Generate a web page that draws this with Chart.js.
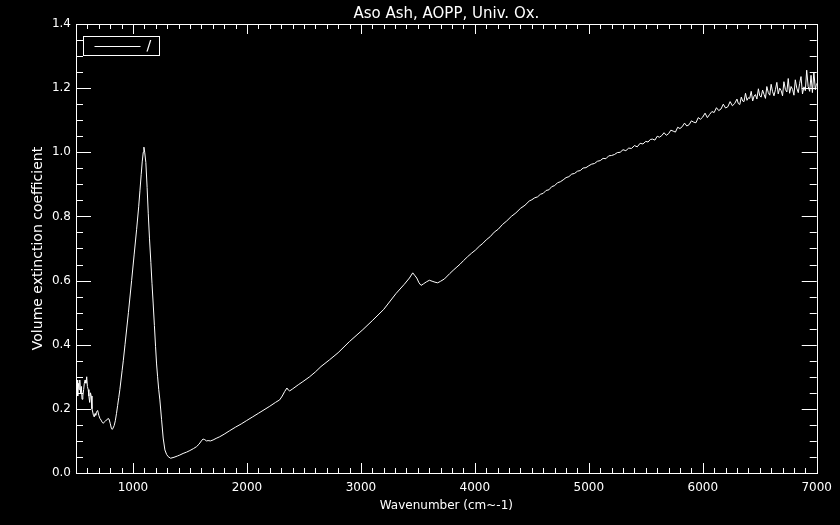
<!DOCTYPE html>
<html>
<head>
<meta charset="utf-8">
<title>Aso Ash, AOPP, Univ. Ox.</title>
<script src="https://cdn.jsdelivr.net/npm/chart.js@4.4.1/dist/chart.umd.min.js"></script>
<style>
  html, body { margin: 0; padding: 0; background: #000; }
  canvas { display: block; }
</style>
</head>
<body>
<canvas id="extChart" width="840" height="525"></canvas>
<script>
// spectrum (wavenumber in cm-1, extinction)
const wavenumber = [
  500, 505, 510, 515, 520, 527, 533, 540, 547, 553, 560, 567, 573, 580, 587, 594, 600, 607, 613, 620,
  627, 633, 640, 647, 653, 660, 667, 673, 680, 690, 700, 710, 720, 730, 740, 750, 760, 770, 780, 790,
  800, 810, 818, 825, 835, 845, 855, 865, 875, 885, 895, 905, 915, 930, 960, 988, 1010, 1032, 1050, 1061,
  1072, 1081, 1090, 1096, 1103, 1113, 1124, 1134, 1145, 1157, 1167, 1177, 1188, 1198, 1207, 1216, 1226, 1236, 1251, 1265,
  1280, 1295, 1309, 1330, 1360, 1390, 1411, 1440, 1470, 1499, 1530, 1557, 1580, 1600, 1615, 1630, 1645, 1659, 1680, 1703,
  1730, 1761, 1800, 1849, 1900, 1950, 1995, 2050, 2100, 2141, 2200, 2250, 2287, 2310, 2331, 2351, 2365, 2375, 2400, 2450,
  2491, 2550, 2600, 2650, 2725, 2800, 2900, 3017, 3100, 3200, 3309, 3380, 3426, 3455, 3475, 3490, 3510, 3528, 3550, 3575,
  3601, 3625, 3650, 3674, 3700, 3733, 3780, 3810, 3835, 3870, 3900, 3935, 3970, 4005, 4039, 4070, 4100, 4135, 4170, 4205,
  4243, 4280, 4320, 4360, 4400, 4440, 4477, 4500, 4525, 4550, 4575, 4600, 4625, 4650, 4675, 4700, 4725, 4750, 4775, 4800,
  4825, 4850, 4875, 4900, 4925, 4950, 4975, 5000, 5025, 5050, 5075, 5100, 5125, 5150, 5175, 5200, 5225, 5250, 5275, 5300,
  5325, 5350, 5375, 5400, 5425, 5450, 5475, 5500, 5520, 5540, 5560, 5580, 5600, 5620, 5640, 5660, 5680, 5700, 5720, 5740,
  5760, 5780, 5800, 5820, 5840, 5860, 5880, 5900, 5920, 5940, 5960, 5980, 6000, 6020, 6040, 6060, 6080, 6100, 6120, 6140,
  6160, 6180, 6200, 6220, 6240, 6260, 6280, 6300, 6312, 6325, 6338, 6350, 6362, 6375, 6388, 6400, 6412, 6425, 6438, 6450,
  6462, 6475, 6488, 6500, 6512, 6525, 6538, 6550, 6562, 6575, 6588, 6600, 6612, 6625, 6638, 6650, 6662, 6675, 6688, 6700,
  6712, 6725, 6738, 6750, 6762, 6775, 6788, 6800, 6812, 6825, 6838, 6850, 6862, 6875, 6888, 6900, 6912, 6925, 6938, 6950,
  6962, 6975, 6988, 7000
];
const extinction = [
  0.270, 0.250, 0.290, 0.240, 0.280, 0.260, 0.290, 0.250, 0.270, 0.230, 0.240, 0.260, 0.280, 0.290, 0.280, 0.300, 0.270, 0.260, 0.240, 0.220,
  0.250, 0.240, 0.200, 0.190, 0.180, 0.175, 0.185, 0.180, 0.190, 0.195, 0.180, 0.170, 0.165, 0.158, 0.155, 0.160, 0.163, 0.165, 0.170, 0.168,
  0.155, 0.140, 0.136, 0.140, 0.148, 0.163, 0.185, 0.210, 0.235, 0.260, 0.290, 0.320, 0.350, 0.400, 0.500, 0.600, 0.680, 0.760, 0.830, 0.880,
  0.930, 0.970, 1.000, 1.016, 1.000, 0.968, 0.890, 0.810, 0.730, 0.656, 0.590, 0.530, 0.460, 0.395, 0.340, 0.300, 0.260, 0.228, 0.166, 0.109,
  0.072, 0.058, 0.051, 0.046, 0.049, 0.053, 0.056, 0.061, 0.065, 0.070, 0.076, 0.082, 0.090, 0.100, 0.106, 0.104, 0.100, 0.101, 0.100, 0.103,
  0.108, 0.113, 0.121, 0.132, 0.143, 0.153, 0.163, 0.175, 0.186, 0.195, 0.208, 0.220, 0.228, 0.240, 0.254, 0.265, 0.258, 0.256, 0.262, 0.275,
  0.285, 0.300, 0.315, 0.332, 0.353, 0.375, 0.410, 0.447, 0.475, 0.510, 0.560, 0.588, 0.608, 0.624, 0.615, 0.608, 0.593, 0.585, 0.590, 0.596,
  0.601, 0.598, 0.595, 0.593, 0.598, 0.605, 0.622, 0.632, 0.640, 0.651, 0.662, 0.674, 0.685, 0.695, 0.707, 0.716, 0.727, 0.737, 0.751, 0.760,
  0.775, 0.786, 0.800, 0.811, 0.825, 0.835, 0.848, 0.852, 0.858, 0.861, 0.869, 0.872, 0.881, 0.883, 0.893, 0.896, 0.905, 0.908, 0.914, 0.921,
  0.924, 0.932, 0.934, 0.941, 0.943, 0.951, 0.952, 0.958, 0.963, 0.965, 0.972, 0.974, 0.981, 0.980, 0.989, 0.990, 0.993, 0.999, 1.000, 1.008,
  1.005, 1.013, 1.012, 1.021, 1.017, 1.028, 1.026, 1.034, 1.032, 1.040, 1.041, 1.038, 1.050, 1.047, 1.052, 1.061, 1.053, 1.058, 1.069, 1.066,
  1.063, 1.078, 1.074, 1.080, 1.091, 1.082, 1.086, 1.098, 1.094, 1.092, 1.108, 1.103, 1.110, 1.122, 1.108, 1.118, 1.127, 1.124, 1.139, 1.130,
  1.135, 1.150, 1.138, 1.142, 1.158, 1.145, 1.152, 1.166, 1.152, 1.149, 1.172, 1.160, 1.158, 1.184, 1.162, 1.170, 1.168, 1.190, 1.160, 1.175,
  1.180, 1.166, 1.198, 1.176, 1.172, 1.194, 1.180, 1.168, 1.205, 1.186, 1.178, 1.212, 1.190, 1.176, 1.196, 1.218, 1.182, 1.200, 1.192, 1.176,
  1.220, 1.196, 1.188, 1.230, 1.184, 1.205, 1.196, 1.178, 1.226, 1.200, 1.186, 1.215, 1.236, 1.182, 1.204, 1.192, 1.256, 1.205, 1.190, 1.240,
  1.186, 1.250, 1.195, 1.215
];
const seriesLabel = '/';
const xTicks = [1000, 2000, 3000, 4000, 5000, 6000, 7000];
const yTicks = [0.0, 0.2, 0.4, 0.6, 0.8, 1.0, 1.2, 1.4];

const titleText = 'Aso Ash, AOPP, Univ. Ox.';
const xTitleText = 'Wavenumber (cm~-1)';
const yTitleText = 'Volume extinction coefficient';

const FONT = 'DejaVu Sans';

// black page, IDL-style box with inward ticks, titles and legend
const idlPlot = {
    id: 'idlPlot',
    beforeDraw(chart) {
        const ctx = chart.ctx;
        ctx.save();
        ctx.fillStyle = '#000';
        ctx.fillRect(0, 0, chart.width, chart.height);
        ctx.restore();
    },
    afterDraw(chart) {
        const { ctx, chartArea: a, scales: { x, y } } = chart;
        ctx.save();
        ctx.strokeStyle = '#fff';
        ctx.lineWidth = 1;
        ctx.strokeRect(Math.round(a.left) + 0.5, Math.round(a.top) + 0.5,
            Math.round(a.right - a.left), Math.round(a.bottom - a.top));

        ctx.beginPath();
        // x ticks every 100, long every 1000
        for (let v = 500; v <= 7000; v += 100) {
            const px = Math.round(x.getPixelForValue(v)) + 0.5;
            const len = v % 1000 === 0 ? 10 : 5;
            ctx.moveTo(px, a.bottom); ctx.lineTo(px, a.bottom - len);
            ctx.moveTo(px, a.top); ctx.lineTo(px, a.top + len);
        }
        // y ticks every 0.05, long every 0.2
        for (let k = 0; k <= 28; k++) {
            const py = Math.round(y.getPixelForValue(k * 0.05)) + 0.5;
            const len = k % 4 === 0 ? 15 : 7;
            ctx.moveTo(a.left, py); ctx.lineTo(a.left + len, py);
            ctx.moveTo(a.right, py); ctx.lineTo(a.right - len, py);
        }
        ctx.stroke();

        // legend box
        const lx = Math.round(a.left) + 7.5, ly = Math.round(a.top) + 12.5;
        ctx.strokeRect(lx, ly, 76, 19);
        ctx.beginPath();
        ctx.moveTo(lx + 11, ly + 10);
        ctx.lineTo(lx + 57, ly + 10);
        ctx.stroke();
        ctx.fillStyle = '#fff';
        ctx.font = '14px ' + FONT;
        ctx.textAlign = 'left';
        ctx.textBaseline = 'middle';
        ctx.fillText(chart.data.datasets[0].label, lx + 63, ly + 10);

        // titles
        const cx = (a.left + a.right) / 2;
        ctx.textAlign = 'center';
        ctx.textBaseline = 'alphabetic';
        ctx.font = '15px ' + FONT;
        ctx.fillText(titleText, cx, 18);
        ctx.font = '12px ' + FONT;
        ctx.fillText(xTitleText, cx, 509);
        ctx.font = '14px ' + FONT;
        ctx.translate(42, (a.top + a.bottom) / 2);
        ctx.rotate(-Math.PI / 2);
        ctx.fillText(yTitleText, 0, 0);
        ctx.restore();
    }
};

const chart = new Chart(document.getElementById('extChart'), {
    type: 'line',
    data: {
        datasets: [{
            label: seriesLabel,
            data: wavenumber.map((w, i) => ({ x: w, y: extinction[i] })),
            borderColor: '#fff',
            borderWidth: 1,
            pointRadius: 0,
            tension: 0,
            fill: false
        }]
    },
    options: {
        responsive: false,
        animation: false,
        devicePixelRatio: 1,
        layout: { padding: { left: 0, right: 22, top: 24, bottom: 0 } },
        plugins: {
            legend: { display: false },
            title: { display: false },
            tooltip: { enabled: false }
        },
        scales: {
            x: {
                type: 'linear',
                min: 500,
                max: 7000,
                grid: { display: false, drawTicks: false },
                border: { display: false },
                afterBuildTicks: s => { s.ticks = xTicks.map(v => ({ value: v })); },
                afterFit: s => { s.height = 52; },
                ticks: {
                    color: '#fff',
                    font: { family: FONT, size: 12 },
                    padding: 8,
                    maxRotation: 0,
                    autoSkip: false,
                    callback: v => String(v)
                }
            },
            y: {
                type: 'linear',
                min: 0,
                max: 1.4,
                grid: { display: false, drawTicks: false },
                border: { display: false },
                afterBuildTicks: s => { s.ticks = yTicks.map(v => ({ value: v })); },
                afterFit: s => { s.width = 76; },
                ticks: {
                    color: '#fff',
                    font: { family: FONT, size: 12 },
                    padding: 5,
                    autoSkip: false,
                    callback: v => v.toFixed(1)
                }
            }
        }
    },
    plugins: [idlPlot]
});
</script>
</body>
</html>
